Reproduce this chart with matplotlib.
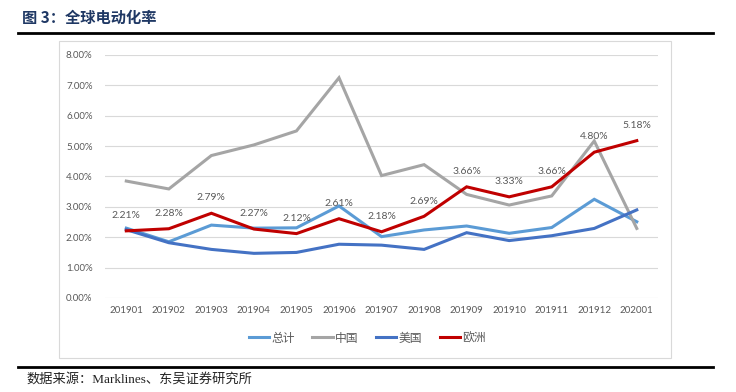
import matplotlib.pyplot as plt
from matplotlib.patches import Rectangle
from matplotlib.lines import Line2D
from matplotlib.ticker import FuncFormatter

plt.rcParams['font.family'] = ['Lato', 'Noto Sans CJK SC', 'DejaVu Sans']

months = ["201901", "201902", "201903", "201904", "201905", "201906", "201907",
          "201908", "201909", "201910", "201911", "201912", "202001"]
total = [2.30, 1.85, 2.40, 2.30, 2.31, 3.03, 2.02, 2.24, 2.37, 2.13, 2.32, 3.25, 2.51]
china = [3.85, 3.59, 4.69, 5.04, 5.50, 7.25, 4.03, 4.39, 3.41, 3.06, 3.36, 5.17, 2.29]
usa = [2.25, 1.82, 1.60, 1.47, 1.50, 1.77, 1.74, 1.60, 2.15, 1.89, 2.05, 2.29, 2.90]
europe = [2.21, 2.28, 2.79, 2.27, 2.12, 2.61, 2.18, 2.69, 3.66, 3.33, 3.66, 4.80, 5.18]

series = [("总计", total, "#5B9BD5"),
          ("中国", china, "#A5A5A5"),
          ("美国", usa, "#4472C4"),
          ("欧洲", europe, "#C00000")]

fig = plt.figure(figsize=(7.36, 3.92), dpi=100)
ax = fig.add_axes([0.1427, 0.2398, 0.7514, 0.6199])

x = range(len(months))
for name, vals, color in series:
    ax.plot(x, vals, color=color, lw=2.2, label=name, solid_joinstyle="miter")

for i, v in enumerate(europe):
    ax.annotate(f"{v:.2f}%", (i, v), xytext=(0, 11), textcoords="offset points",
                ha="center", va="center", fontsize=7.5, color="#595959")

ax.set_xlim(-0.5, len(months) - 0.5)
ax.set_ylim(0, 8)
ax.set_yticks(range(0, 9))
ax.yaxis.set_major_formatter(FuncFormatter(lambda v, p: f"{v:.2f}%"))
ax.set_xticks(list(x))
ax.set_xticklabels(months)
ax.tick_params(length=0, labelsize=7, colors="#595959", pad=6)
ax.tick_params(axis="y", pad=9)
ax.grid(axis="y", color="#D9D9D9", lw=0.8)
ax.set_axisbelow(True)
for s in ax.spines.values():
    s.set_visible(False)

handles = [Line2D([], [], color=c, lw=2.2) for _, _, c in series]
fig.legend(handles, [n for n, _, _ in series], loc="center", ncol=4,
           bbox_to_anchor=(0.499, 0.1378), frameon=False, fontsize=8.5,
           handlelength=1.7, handletextpad=0.2, columnspacing=1.5,
           labelcolor="#595959")

# outer chart box
fig.patches.append(Rectangle((0.0802, 0.0867), 0.8315, 0.8087, transform=fig.transFigure,
                             fill=False, edgecolor="#D9D9D9", lw=0.8))
# header / footer rules
fig.add_artist(Line2D([0.0245, 0.9688], [0.9158, 0.9158], color="black", lw=2.0))
fig.add_artist(Line2D([0.0245, 0.9688], [0.0638, 0.0638], color="black", lw=2.0))

fig.text(0.03, 0.954, "图 3：全球电动化率", fontsize=11, fontweight="bold",
         color="#1F3864", family=["Noto Sans CJK SC"], va="center", ha="left")
fig.text(0.036, 0.033, "数据来源：Marklines、东吴证券研究所", fontsize=9.5,
         color="#222222", family=["Liberation Serif", "Noto Sans CJK SC"],
         va="center", ha="left")

fig.savefig("out.png", dpi=100)
